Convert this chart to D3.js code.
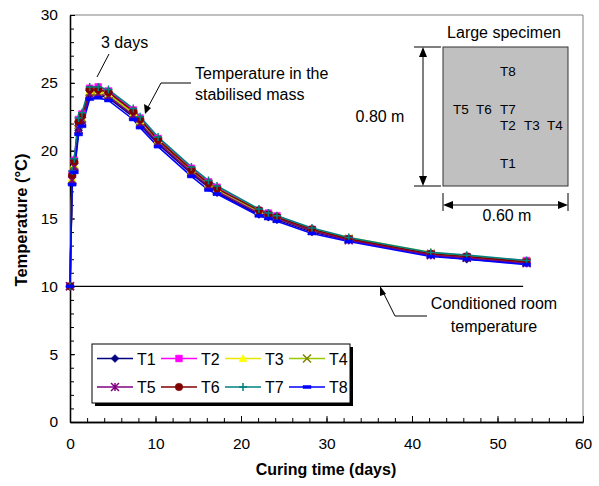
<!DOCTYPE html>
<html><head><meta charset="utf-8">
<script src="https://cdn.jsdelivr.net/npm/d3@7"></script>
<style>
body{margin:0;background:#fff;}
svg{display:block;font-family:Arial,"Liberation Sans",sans-serif;}
</style></head>
<body><svg id="c" width="599" height="486"></svg>
<script>
// ---- data ----
const curingDays = [0, 0.25, 0.5, 1.0, 1.4, 2.3, 3.3, 4.5, 7.4, 8.2, 10.3, 14.2, 16.2, 17.2, 22.1, 23.2, 24.2, 28.3, 32.6, 42.2, 46.4, 53.4];
const T1 = [10, 17.6, 18.6, 21.5, 22.1, 24.1, 24.1, 23.9, 22.5, 21.9, 20.5, 18.3, 17.3, 16.9, 15.3, 15.1, 14.9, 14.0, 13.4, 12.3, 12.0, 11.7];
const T2 = [10, 18.3, 19.3, 22.3, 22.7, 24.6, 24.7, 24.4, 23.0, 22.4, 20.9, 18.7, 17.7, 17.3, 15.6, 15.4, 15.2, 14.2, 13.5, 12.4, 12.2, 11.9];
const T3 = [10, 18.0, 19.0, 22.0, 22.5, 24.4, 24.4, 24.2, 22.8, 22.2, 20.8, 18.6, 17.6, 17.2, 15.6, 15.3, 15.1, 14.2, 13.6, 12.5, 12.2, 11.8];
const T4 = [10, 17.9, 18.9, 21.9, 22.4, 24.3, 24.3, 24.1, 22.7, 22.1, 20.7, 18.5, 17.5, 17.1, 15.5, 15.2, 15.0, 14.1, 13.5, 12.4, 12.1, 11.8];
const T5 = [10, 17.8, 18.8, 21.6, 22.2, 24.2, 24.2, 24.0, 22.6, 22.0, 20.6, 18.4, 17.4, 17.0, 15.4, 15.2, 15.0, 14.1, 13.4, 12.3, 12.1, 11.7];
const T6 = [10, 18.2, 19.2, 22.1, 22.6, 24.5, 24.5, 24.3, 22.9, 22.3, 20.8, 18.6, 17.6, 17.2, 15.6, 15.3, 15.1, 14.2, 13.5, 12.4, 12.2, 11.8];
const T7 = [10, 18.5, 19.4, 22.4, 22.8, 24.7, 24.7, 24.5, 23.1, 22.5, 21.0, 18.8, 17.8, 17.4, 15.7, 15.4, 15.2, 14.3, 13.6, 12.5, 12.3, 11.9];
const T8 = [10, 17.5, 18.4, 21.2, 21.8, 23.8, 23.9, 23.7, 22.3, 21.7, 20.3, 18.1, 17.1, 16.8, 15.2, 15.0, 14.8, 13.9, 13.3, 12.2, 12.0, 11.6];
const seriesNames = ["T1","T2","T3","T4","T5","T6","T7","T8"];
const seriesValues = [T1,T2,T3,T4,T5,T6,T7,T8];
const roomTemp = 10;
const roomTempSpan = [0, 53];
const xTickLabels = [0,10,20,30,40,50,60];
const yTickLabels = [0,5,10,15,20,25,30];
const sensorNames = ["T8","T5","T6","T7","T2","T3","T4","T1"];

// ---- layout / styles ----
const sensorPos = [[508,76],[461,114],[484,114],[508,114],[508,130],[532,130],[555,130],[508,168]];
const colors = ["#000080","#ff00ff","#e6e600","#99cc00","#800080","#800000","#008080","#0000ff"];
const markerColors = ["#000080","#ff00ff","#ffff00","#808000","#800080","#800000","#008080","#0000ff"];
const markerTypes = ["diamond","square","triangle","x","star","circle","plus","dash"];
const FS = 16;

const svg = d3.select("#c");
const x = d3.scaleLinear().domain([0,60]).range([70,583]);
const y = d3.scaleLinear().domain([0,30]).range([422,15]);

// plot frame (top/right)
svg.append("path").attr("d",`M${x(0)},${y(30)}H${x(60)}V${y(0)}`).attr("fill","none").attr("stroke","#808080").attr("stroke-width",1);

// axes
const gx = svg.append("g").attr("transform",`translate(0,${y(0)})`);
gx.call(d3.axisBottom(x).tickValues(d3.range(0,61,2)).tickSize(-4).tickSizeOuter(0).tickFormat(""));
const gx2 = svg.append("g").attr("transform",`translate(0,${y(0)})`);
gx2.call(d3.axisBottom(x).tickValues(xTickLabels).tickSize(-6).tickSizeOuter(0).tickPadding(16));
const gy = svg.append("g").attr("transform",`translate(${x(0)},0)`);
gy.call(d3.axisLeft(y).tickValues(d3.range(0,31,1)).tickSize(-4).tickSizeOuter(0).tickFormat(""));
const gy2 = svg.append("g").attr("transform",`translate(${x(0)},0)`);
gy2.call(d3.axisLeft(y).tickValues(yTickLabels).tickSize(-5).tickSizeOuter(0).tickPadding(12));
svg.selectAll(".domain").attr("stroke","#000").attr("stroke-width",1.3);
svg.selectAll(".tick line").attr("stroke","#000");
svg.selectAll(".tick text").attr("font-size",15.5).attr("font-family","Arial,'Liberation Sans',sans-serif").attr("fill","#000");

// axis titles
svg.append("text").attr("x",326).attr("y",475).attr("text-anchor","middle")
  .attr("font-family","'Liberation Sans Narrow','Arial Narrow',Arial,sans-serif").attr("font-weight","bold").attr("font-size",16).text("Curing time (days)");
svg.append("text").attr("transform","translate(27,220) rotate(-90)").attr("text-anchor","middle")
  .attr("font-family","'Liberation Sans Narrow','Arial Narrow',Arial,sans-serif").attr("font-weight","bold").attr("font-size",16.5).text("Temperature (°C)");

// room temperature line
svg.append("line").attr("x1",x(roomTempSpan[0])).attr("x2",x(roomTempSpan[1])).attr("y1",y(roomTemp)).attr("y2",y(roomTemp))
  .attr("stroke","#000").attr("stroke-width",1.3);

// markers
function markerPath(type, s){
  const h = s/2;
  switch(type){
    case "diamond": return `M0,${-h}L${h},0L0,${h}L${-h},0Z`;
    case "square": return `M${-h*0.85},${-h*0.85}H${h*0.85}V${h*0.85}H${-h*0.85}Z`;
    case "triangle": return `M0,${-h}L${h},${h*0.8}L${-h},${h*0.8}Z`;
    case "circle": return d3.symbol(d3.symbolCircle, s*s*0.7)();
    case "x": return `M${-h},${-h}L${h},${h}M${-h},${h}L${h},${-h}`;
    case "star": return `M${-h},${-h}L${h},${h}M${-h},${h}L${h},${-h}M0,${-h}V${h}`;
    case "plus": return `M${-h},0H${h}M0,${-h}V${h}`;
    case "dash": return `M${-h},${-1.5}H${h}V${1.5}H${-h}Z`;
  }
}
const stroked = {x:true, star:true, plus:true};

function drawMarker(g, type, color, cx, cy){
  const p = g.append("path").attr("transform",`translate(${cx},${cy})`).attr("d",markerPath(type,8));
  if(stroked[type]) p.attr("fill","none").attr("stroke",color).attr("stroke-width",1.5);
  else p.attr("fill",color).attr("stroke",color).attr("stroke-width",0.5);
}

const line = d3.line().x(d=>x(d[0])).y(d=>y(d[1]));
const gs = svg.append("g");
seriesValues.forEach((vals,i)=>{
  const pts = curingDays.map((t,j)=>[t,vals[j]]);
  gs.append("path").attr("d",line(pts)).attr("fill","none").attr("stroke",colors[i]).attr("stroke-width",1.6);
});
seriesValues.forEach((vals,i)=>{
  curingDays.forEach((t,j)=>drawMarker(gs, markerTypes[i], markerColors[i], x(t), y(vals[j])));
});

// legend
const lg = svg.append("g");
lg.append("rect").attr("x",95).attr("y",347).attr("width",258).attr("height",59).attr("fill","#000");
lg.append("rect").attr("x",92).attr("y",344).attr("width",258).attr("height",59).attr("fill","#fff").attr("stroke","#000").attr("stroke-width",1);
seriesNames.forEach((n,i)=>{
  const col = i%4, row = Math.floor(i/4);
  const lx = 97 + col*64, ly = 358.5 + row*28.5;
  lg.append("line").attr("x1",lx).attr("x2",lx+36).attr("y1",ly).attr("y2",ly).attr("stroke",colors[i]).attr("stroke-width",1.6);
  drawMarker(lg, markerTypes[i], markerColors[i], lx+18, ly);
  lg.append("text").attr("x",lx+40).attr("y",ly+6).attr("font-size",FS).text(n);
});

// annotations
svg.append("text").attr("x",101).attr("y",48).attr("font-size",FS).text("3 days");
svg.append("line").attr("x1",109).attr("y1",54).attr("x2",97).attr("y2",77).attr("stroke","#000").attr("stroke-width",1);

svg.append("text").attr("x",195).attr("y",79).attr("font-size",FS).text("Temperature in the");
svg.append("text").attr("x",195).attr("y",100).attr("font-size",FS).text("stabilised mass");
svg.append("path").attr("d","M191,83H161L147,109").attr("fill","none").attr("stroke","#000").attr("stroke-width",1);
svg.append("path").attr("d","M145,114L144,104L151,108Z").attr("fill","#000");

svg.append("text").attr("x",494).attr("y",309).attr("text-anchor","middle").attr("font-size",FS).text("Conditioned room");
svg.append("text").attr("x",494).attr("y",332).attr("text-anchor","middle").attr("font-size",FS).text("temperature");
svg.append("path").attr("d","M427,316H395L383,292").attr("fill","none").attr("stroke","#000").attr("stroke-width",1);
svg.append("path").attr("d","M380,286L386,294L380,296Z").attr("fill","#000");

// inset specimen
const ins = svg.append("g");
ins.append("text").attr("x",504).attr("y",38).attr("text-anchor","middle").attr("font-size",FS).text("Large specimen");
ins.append("rect").attr("x",443).attr("y",47).attr("width",125).attr("height",139).attr("fill","#c0c0c0").attr("stroke","#333").attr("stroke-width",1);
sensorNames.forEach((s,i)=>{
  ins.append("text").attr("x",sensorPos[i][0]).attr("y",sensorPos[i][1]).attr("text-anchor","middle").attr("font-size",13.5).text(s);
});
// vertical dimension
ins.append("path").attr("d","M414,47H441M414,186H441M423,50V183").attr("stroke","#000").attr("fill","none").attr("stroke-width",1);
ins.append("path").attr("d","M423,47L419,57L427,57Z M423,186L419,176L427,176Z").attr("fill","#000");
ins.append("text").attr("x",380).attr("y",122).attr("text-anchor","middle").attr("font-size",FS).text("0.80 m");
// horizontal dimension
ins.append("path").attr("d","M443,193V211M568,193V211M446,205H565").attr("stroke","#000").attr("fill","none").attr("stroke-width",1);
ins.append("path").attr("d","M443,205L453,201L453,209Z M568,205L558,201L558,209Z").attr("fill","#000");
ins.append("text").attr("x",507).attr("y",221).attr("text-anchor","middle").attr("font-size",FS).text("0.60 m");
</script></body></html>
